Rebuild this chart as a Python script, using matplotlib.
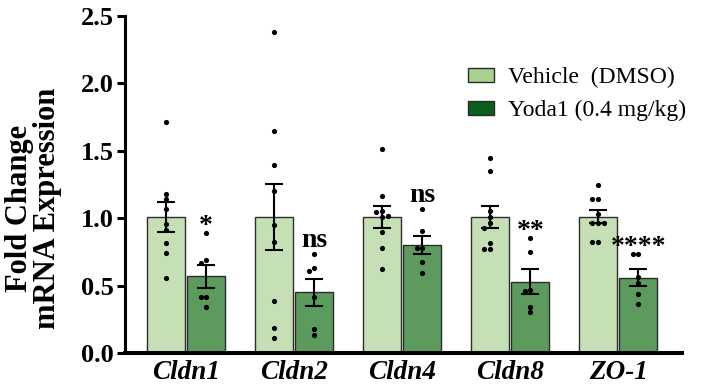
import numpy as np
import matplotlib
matplotlib.use("Agg")
import matplotlib.pyplot as plt
from matplotlib.patches import Patch

plt.rcParams['font.family'] = ['Liberation Serif', 'DejaVu Serif']

genes = ["Cldn1", "Cldn2", "Cldn4", "Cldn8", "ZO-1"]
series_names = ["Vehicle  (DMSO)", "Yoda1 (0.4 mg/kg)"]

vehicle = [
    [1.716, 1.18, 1.14, 1.068, 0.955, 0.912, 0.818, 0.74, 0.56],
    [2.38, 1.647, 1.392, 1.204, 0.952, 0.823, 0.386, 0.188, 0.114],
    [1.513, 1.167, 1.053, 1.044, 1.016, 1.007, 0.9, 0.777, 0.621],
    [1.447, 1.35, 1.053, 1.007, 0.962, 0.93, 0.814, 0.769, 0.769],
    [1.246, 1.142, 1.142, 1.029, 0.967, 0.967, 0.967, 0.826, 0.826],
]
yoda = [
    [0.888, 0.69, 0.665, 0.418, 0.418, 0.344],
    [0.734, 0.628, 0.611, 0.413, 0.18, 0.131],
    [1.071, 0.907, 0.781, 0.781, 0.675, 0.591],
    [0.851, 0.752, 0.467, 0.46, 0.344, 0.302],
    [0.732, 0.732, 0.566, 0.522, 0.435, 0.363],
]
significance = ["*", "ns", "ns", "**", "****"]

bar_colors = ["#c6e0b6", "#5c9a5e"]
legend_colors = ["#a9d18e", "#0b5e1c"]

fig = plt.figure(figsize=(7.02, 3.88), dpi=100)
ax = fig.add_axes([0.178, 0.0902, 0.7935, 0.8686])

width = 0.352
offset = 0.187
x = np.arange(len(genes))

# pixel scales for beeswarm spacing
px_per_x = 108.0
px_per_y = 134.8
dot_px = 5.6


def swarm(vals, center):
    placed = []
    xs = []
    cands = [0]
    for i in range(1, 10):
        cands += [-i, i]
    for v in vals:
        xx = center
        for c in cands:
            xx = center + c * dot_px / px_per_x
            ok = True
            for (px_, py_) in placed:
                dx = (xx - px_) * px_per_x
                dy = (v - py_) * px_per_y
                if dx * dx + dy * dy < (dot_px * 0.95) ** 2:
                    ok = False
                    break
            if ok:
                break
        placed.append((xx, v))
        xs.append(xx)
    return xs


for gi, group in enumerate([vehicle, yoda]):
    for i, vals in enumerate(group):
        vals = np.array(vals)
        m = vals.mean()
        sem = vals.std(ddof=1) / np.sqrt(len(vals))
        cx = x[i] + (-offset if gi == 0 else offset)
        ax.bar(cx, m, width=width, color=bar_colors[gi], edgecolor="#2b2b2b",
               linewidth=1.0, zorder=1)
        ax.errorbar(cx, m, yerr=sem, color="black", elinewidth=1.5,
                    capsize=6.8, capthick=1.5, zorder=3, fmt="none")
        xs = swarm(vals, cx)
        ax.scatter(xs, vals, s=14, color="black", zorder=4, linewidths=0)

for i, lab in enumerate(significance):
    top = max(yoda[i])
    pad = 0.05 if lab == "ns" else 0.0
    ax.text(x[i] + offset, top + pad, lab, ha="center", va="baseline",
            fontsize=20, fontweight="bold")

ax.set_xlim(-0.565, 4.59)
ax.set_ylim(0, 2.5)
ax.set_yticks([0, 0.5, 1.0, 1.5, 2.0, 2.5])
ax.set_yticklabels(["0.0", "0.5", "1.0", "1.5", "2.0", "2.5"])
ax.set_xticks(x)
ax.set_xticklabels(genes, fontstyle="italic", fontweight="bold", fontsize=19.5)
ax.tick_params(axis="x", length=0, pad=5)
ax.tick_params(axis="y", length=6, width=2.2, labelsize=19, pad=2)
for lab in ax.get_yticklabels():
    lab.set_fontweight("bold")

ax.spines["top"].set_visible(False)
ax.spines["right"].set_visible(False)
ax.spines["left"].set_linewidth(2.2)
ax.spines["bottom"].set_linewidth(2.9)

ax.set_ylabel("Fold Change\nmRNA Expression", fontsize=22, fontweight="bold",
              linespacing=0.95)
ax.yaxis.set_label_coords(-0.113, 0.43)

handles = [Patch(facecolor=legend_colors[k], edgecolor="#2b2b2b", linewidth=1.0)
           for k in range(2)]
ax.legend(handles, series_names, loc="center left", bbox_to_anchor=(0.577, 0.768),
          frameon=False, fontsize=17, handlelength=1.1, handleheight=0.5,
          handletextpad=0.6, labelspacing=0.5)

fig.savefig("out.png", dpi=100)
